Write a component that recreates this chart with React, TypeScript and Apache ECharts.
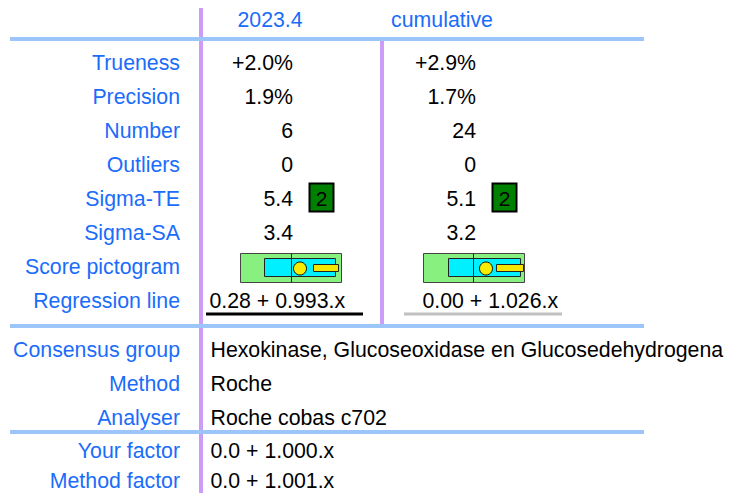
import React, { useEffect, useRef } from "react";
import * as echarts from "echarts";

const columnHeaders = ["2023.4", "cumulative"];
const rowLabels = ["Trueness", "Precision", "Number", "Outliers", "Sigma-TE", "Sigma-SA", "Score pictogram", "Regression line"];
const trueness = [2.0, 2.9];
const precision = [1.9, 1.7];
const numbers = [6, 24];
const outliers = [0, 0];
const sigmaTE = [5.4, 5.1];
const sigmaScore = [2, 2];
const sigmaSA = [3.4, 3.2];
const intercepts = [0.28, 0.0];
const slopes = [0.993, 1.026];
const infoLabels = ["Consensus group", "Method", "Analyser"];
const infoValues = ["Hexokinase, Glucoseoxidase en Glucosedehydrogena", "Roche", "Roche cobas c702"];
const factorLabels = ["Your factor", "Method factor"];
const factorValues = ["0.0 + 1.000.x", "0.0 + 1.001.x"];

const BLUE = "#1a6cfa";
const FONT = "'Liberation Sans', Arial, sans-serif";
const FS = 21.3;

export default function App() {
  const ref = useRef<HTMLDivElement>(null);
  useEffect(() => {
    if (!ref.current) return;
    const chart = echarts.init(ref.current, null, { renderer: "svg" });
    const els: any[] = [];
    const text = (x: number, y: number, s: string, align: string, fill: string, size = FS) =>
      els.push({
        type: "text",
        x,
        y,
        style: { text: s, fill, font: `${size}px ${FONT}`, textAlign: align, textVerticalAlign: "middle" },
      });
    const line = (x1: number, y1: number, x2: number, y2: number, stroke: string, w: number) =>
      els.push({ type: "line", shape: { x1, y1, x2, y2 }, style: { stroke, lineWidth: w } });

    // grid lines
    line(201, 8, 201, 493, "#cc9cf8", 4);
    line(382, 40, 382, 324, "#cc9cf8", 4);
    line(10, 39, 644, 39, "#9cc6fa", 4);
    line(10, 326, 644, 326, "#9cc6fa", 4);
    line(10, 432, 644, 432, "#9cc6fa", 4);

    // headers
    text(270, 19.5, columnHeaders[0], "center", BLUE);
    text(442, 19.5, columnHeaders[1], "center", BLUE);

    const rowY = (i: number) => 63 + i * 34;
    rowLabels.forEach((l, i) => text(180, rowY(i), l, "right", BLUE));

    const valueRight = [293, 476];
    const fmtSigned = (v: number) => (v >= 0 ? "+" : "") + v.toFixed(1) + "%";
    [0, 1].forEach((c) => {
      const xr = valueRight[c];
      text(xr, rowY(0), fmtSigned(trueness[c]), "right", "#000");
      text(xr, rowY(1), precision[c].toFixed(1) + "%", "right", "#000");
      text(xr, rowY(2), String(numbers[c]), "right", "#000");
      text(xr, rowY(3), String(outliers[c]), "right", "#000");
      text(xr, rowY(4), sigmaTE[c].toFixed(1), "right", "#000");
      text(xr, rowY(5), sigmaSA[c].toFixed(1), "right", "#000");
      // sigma score box
      const bx = xr + 16.5;
      els.push({
        type: "rect",
        shape: { x: bx, y: 183.5, width: 24, height: 28 },
        style: { fill: "#008000", stroke: "#000", lineWidth: 2 },
      });
      text(bx + 12, 198, String(sigmaScore[c]), "center", "#000", 21);
    });

    // pictograms
    const pic = [
      { x: 240, cyanX: 24, cyanW: 71, v: 51, cx: 60, barX: 73, barW: 25 },
      { x: 423, cyanX: 25, cyanW: 72, v: 50, cx: 63, barX: 73, barW: 27 },
    ];
    pic.forEach((p) => {
      const y0 = 253.5;
      els.push({ type: "rect", shape: { x: p.x + 0.5, y: y0, width: 101, height: 29 }, style: { fill: "#88f07e", stroke: "#444", lineWidth: 1 } });
      els.push({ type: "rect", shape: { x: p.x + p.cyanX + 0.5, y: y0 + 5, width: p.cyanW, height: 18 }, style: { fill: "#00f0ff", stroke: "#222", lineWidth: 1 } });
      els.push({ type: "line", shape: { x1: p.x + p.v + 0.5, y1: y0, x2: p.x + p.v + 0.5, y2: y0 + 29 }, style: { stroke: "#222", lineWidth: 1 } });
      els.push({ type: "rect", shape: { x: p.x + p.barX + 0.5, y: y0 + 11, width: p.barW, height: 7 }, style: { fill: "#f5e600", stroke: "#222", lineWidth: 1 } });
      els.push({ type: "circle", shape: { cx: p.x + p.cx, cy: y0 + 15, r: 6.5 }, style: { fill: "#f8ec00", stroke: "#111", lineWidth: 1 } });
    });

    // regression
    const regX = [209.5, 422.5];
    [0, 1].forEach((c) => {
      text(regX[c], rowY(7), intercepts[c].toFixed(2) + " + " + slopes[c].toFixed(3) + ".x", "left", "#000");
    });
    line(206, 314, 363, 314, "#000", 3);
    line(404, 314, 562, 314, "#c0c0c0", 3);

    // info
    infoLabels.forEach((l, i) => {
      const y = 350 + i * 34;
      text(180, y, l, "right", BLUE);
      text(210.5, y, infoValues[i], "left", "#000");
    });
    factorLabels.forEach((l, i) => {
      const y = 451 + i * 30;
      text(180, y, l, "right", BLUE);
      text(210.5, y, factorValues[i], "left", "#000");
    });

    chart.setOption({ animation: false, graphic: { elements: els } });
    return () => chart.dispose();
  }, []);
  return <div ref={ref} style={{ position: "fixed", left: 0, top: 0, width: 744, height: 494, background: "#fff" }} />;
}
